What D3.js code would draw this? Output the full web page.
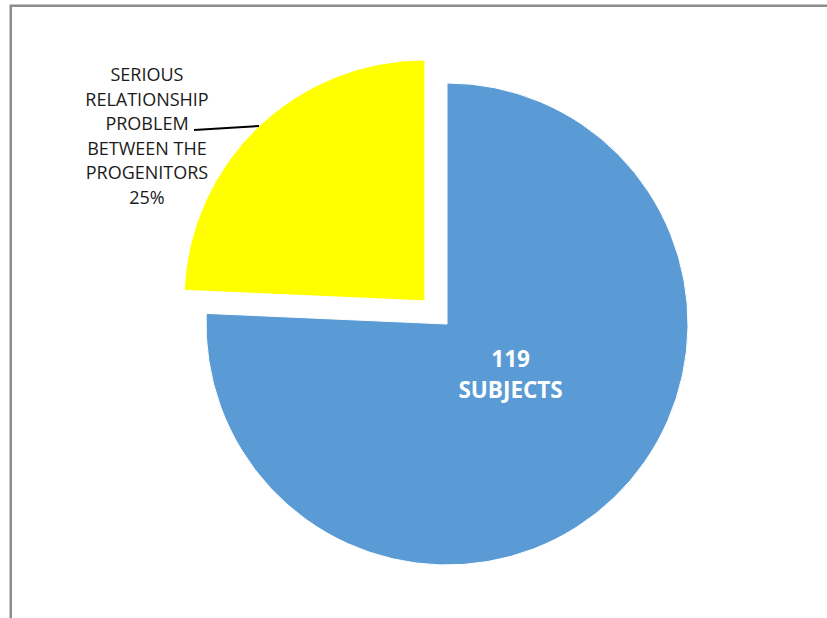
<!DOCTYPE html>
<html>
<head>
<meta charset="utf-8">
<script src="https://cdn.jsdelivr.net/npm/d3@7"></script>
<style>
  body { margin: 0; background: #fff; }
  svg { display: block; }
</style>
</head>
<body>
<div id="chart-area"></div>
<script>
// data
var categories = ["Other", "Serious relationship problem between the progenitors"];
var values = [75.7, 24.3];
var colors = ["#5B9BD5", "#FFFF00"];
var exploded = [false, true];
var blueLabel = ["119", "SUBJECTS"];
var yellowLabel = ["SERIOUS", "RELATIONSHIP", "PROBLEM", "BETWEEN THE", "PROGENITORS", "25%"];

var width = 827, height = 618;
var cx = 447, cy = 324, radius = 241, explode = 32;

var svg = d3.select("#chart-area").append("svg")
  .attr("width", width).attr("height", height);

svg.append("rect").attr("width", width).attr("height", height).attr("fill", "#fff");
// chart border (right and bottom fall outside the picture)
svg.append("rect")
  .attr("x", 10.75).attr("y", 5.75)
  .attr("width", width + 20).attr("height", height + 20)
  .attr("fill", "none").attr("stroke", "#8c8c8c").attr("stroke-width", 2.5);

var pie = d3.pie().sort(null).value(function (d) { return d; });
var arcs = pie(values);
var arc = d3.arc().innerRadius(0).outerRadius(radius);

var g = svg.append("g").attr("transform", "translate(" + cx + "," + cy + ")");

function offset(d, i) {
  if (!exploded[i]) return [0, 0];
  var a = (d.startAngle + d.endAngle) / 2;
  return [Math.sin(a) * explode, -Math.cos(a) * explode];
}

g.selectAll("path.slice").data(arcs).enter().append("path")
  .attr("class", "slice")
  .attr("transform", function (d, i) {
    var o = offset(d, i);
    return "translate(" + o[0] + "," + o[1] + ")";
  })
  .attr("d", arc)
  .attr("fill", function (d, i) { return colors[i]; })
  .attr("stroke", "#fff").attr("stroke-width", 1);

// label inside the big slice
var b = arcs[0];
var bMid = (b.startAngle + b.endAngle) / 2;
var bx = Math.sin(bMid) * 92, by = -Math.cos(bMid) * 90;
var t1 = g.append("text")
  .attr("text-anchor", "middle")
  .attr("font-family", "'Open Sans', sans-serif")
  .attr("font-weight", "bold").attr("font-size", "22.5px")
  .attr("fill", "#fff");
blueLabel.forEach(function (s, i) {
  t1.append("tspan").attr("x", bx).attr("y", by - 22 + i * 31).text(s);
});

// outside label for the exploded slice
var lx = 147, ly = 81;
var t2 = svg.append("text")
  .attr("text-anchor", "middle")
  .attr("font-family", "'Open Sans', sans-serif")
  .attr("font-size", "18px")
  .attr("fill", "#1a1a1a");
yellowLabel.forEach(function (s, i) {
  t2.append("tspan").attr("x", lx).attr("y", ly + i * 24.5).text(s);
});

// leader line to the yellow slice edge
var y1 = arcs[1], yo = offset(y1, 1);
var la = -43.5 * Math.PI / 180;
var ex = cx + yo[0] + Math.sin(la) * radius, ey = cy + yo[1] - Math.cos(la) * radius;
svg.append("path")
  .attr("d", d3.line()([[194, 130], [ex, ey]]))
  .attr("stroke", "#000").attr("stroke-width", 2).attr("fill", "none");
</script>
</body>
</html>
